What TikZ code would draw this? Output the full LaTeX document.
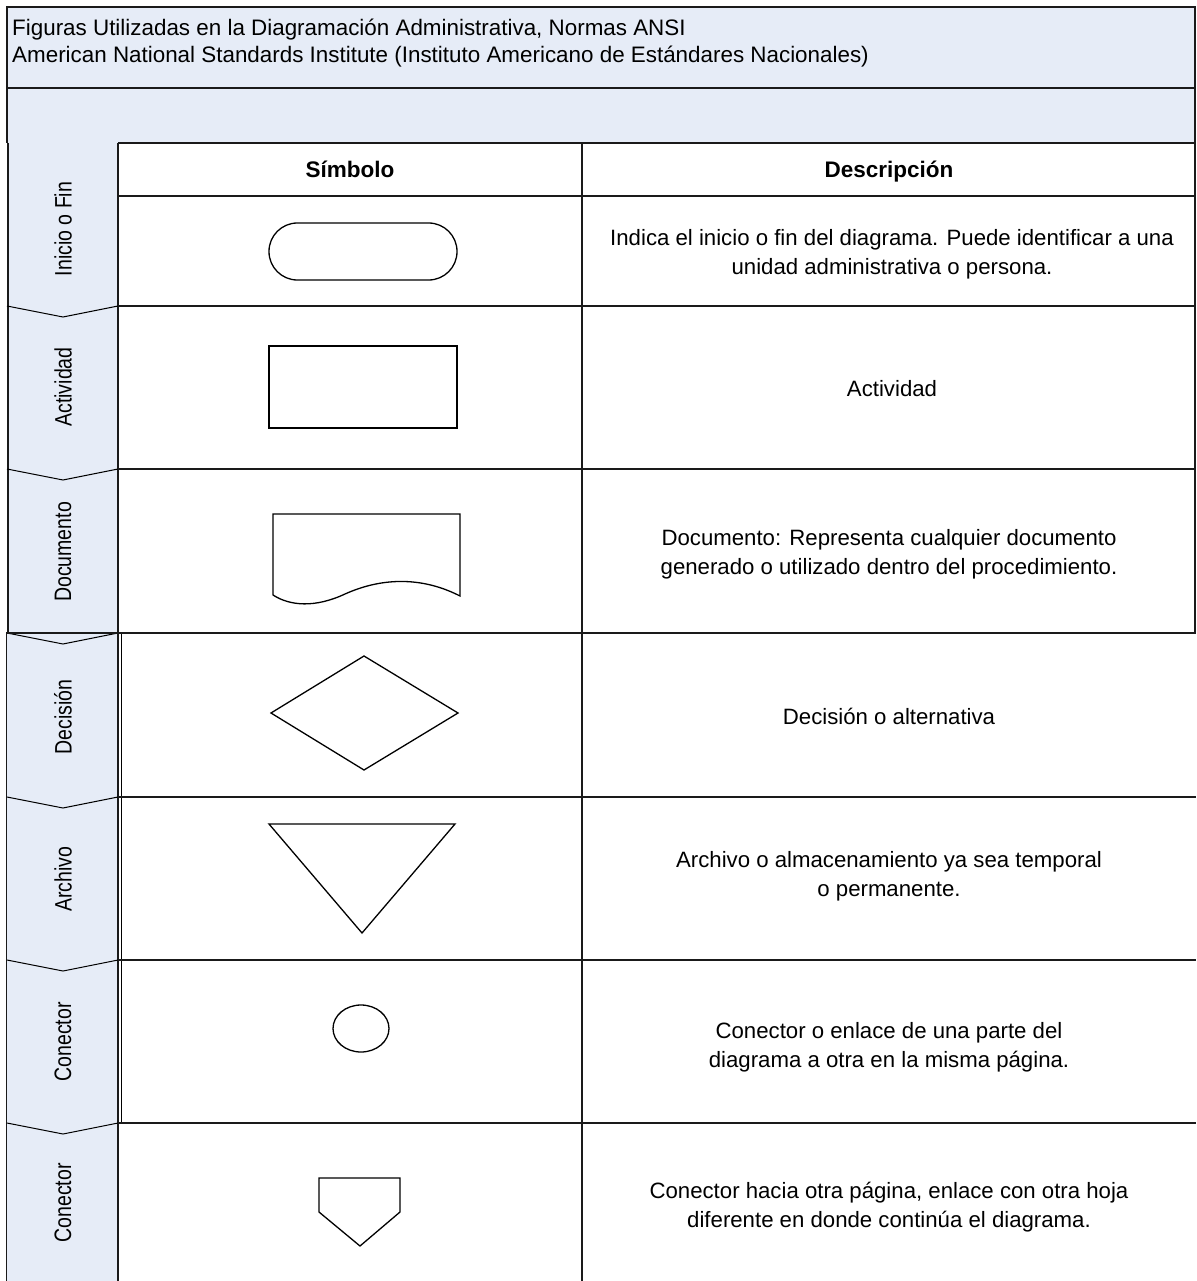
\documentclass[tikz,border=0pt]{standalone}
\usepackage{fontspec}
\setmainfont{Liberation Sans}
\newfontfamily\lanefont[FakeStretch=0.82]{Liberation Sans}
\definecolor{band}{HTML}{E6ECF7}
\definecolor{rule}{HTML}{1A1A1A}

\tikzset{
  grid/.style={line width=1.4pt, draw=rule},
  thickgrid/.style={line width=2.2pt, draw=rule},
  symb/.style={line width=1.3pt, draw=black},
  desc/.style={align=center, font=\fontsize{22.2}{29}\selectfont, inner sep=0pt},
  head/.style={anchor=base, font=\bfseries\fontsize{22.5}{26}\selectfont, inner sep=0pt},
  titletext/.style={anchor=base west, font=\fontsize{22.4}{26}\selectfont, inner sep=0pt},
  lanelabel/.style={rotate=90, font=\lanefont\fontsize{23.8}{27}\selectfont, inner sep=0pt},
}

\begin{document}
\begin{tikzpicture}[x=1pt, y=-1pt]
  \useasboundingbox (0,0) rectangle (1196,1281);

  % title band
  \fill[band] (7,7) rectangle (1195,143);
  \draw[grid] (7,143) -- (7,7) -- (1195,7) -- (1195,143);
  \draw[grid] (7,88) -- (1195,88);
  \node[titletext] (t1) at (12,36) {Figuras Utilizadas en la Diagramación Administrativa, Normas ANSI};
  \node[titletext] (t2) at (12,62.5) {American National Standards Institute (Instituto Americano de Estándares Nacionales)};

  % lane column
  \fill[band] (7,143) rectangle (118,1281);
  \draw[grid] (8,143) -- (8,633);
  \draw[grid] (6.5,633) -- (6.5,1281);
  \draw[grid] (118,143) -- (118,1281);
  \draw[line width=0.8pt] (121,633) -- (121,1123);
  \foreach \yy in {306,469,633,797,960,1123}
    \draw[line width=1pt] (7,\yy) -- (63,\yy+11) -- (118,\yy);

  % lane labels
  \node[lanelabel] (l1) at (63,229) {Inicio o Fin};
  \node[lanelabel] (l2) at (63,387) {Actividad};
  \node[lanelabel] (l3) at (63,552) {Documento};
  \node[lanelabel] (l4) at (63,717) {Decisión};
  \node[lanelabel] (l5) at (63,879) {Archivo};
  \node[lanelabel] (l6) at (63,1042) {Conector};
  \node[lanelabel] (l7) at (63,1203) {Conector};

  % table grid
  \draw[grid] (118,143) -- (1195,143);
  \draw[grid] (118,196) -- (1195,196);
  \draw[grid] (118,306) -- (1195,306);
  \draw[grid] (118,469) -- (1195,469);
  \draw[thickgrid] (6,633) -- (1196,633);
  \draw[thickgrid] (118,797) -- (582,797);
  \draw[grid] (582,797) -- (1196,797);
  \draw[grid] (118,960) -- (1196,960);
  \draw[grid] (118,1123) -- (1196,1123);
  \draw[grid] (582,143) -- (582,1281);
  \draw[grid] (1195,143) -- (1195,633);

  % column headers
  \node[head] (h1) at (350,178) {Símbolo};
  \node[head] (h2) at (889,178) {Descripción};

  % symbols
  \node[symb, minimum width=188pt, minimum height=57pt, rounded corners=28.4pt] (term) at (363,251.5) {};
  \node[symb, minimum width=188pt, minimum height=82pt] (act) at (363,387) {};
  \draw[symb] (273,595) -- (273,514) -- (460,514) -- (460,596)
    .. controls (425,578) and (385,576) .. (345,594)
    .. controls (315,608) and (290,606) .. (273,595);
  \draw[symb] (271,713) -- (364,656) -- (458,713) -- (364,770) -- cycle;
  \draw[symb] (269,824) -- (455,824) -- (362,933) -- cycle;
  \draw[symb] (361,1028.5) ellipse [x radius=28, y radius=23.5];
  \draw[symb] (319,1178) -- (400,1178) -- (400,1212) -- (360,1246) -- (319,1212) -- cycle;

  % descriptions
  \node[desc] (d1) at (892,254.5) {Indica el inicio o fin del diagrama. Puede identificar a una\\unidad administrativa o persona.};
  \node[desc] (d2) at (892,389) {Actividad};
  \node[desc] (d3) at (889,554) {Documento: Representa cualquier documento\\generado o utilizado dentro del procedimiento.};
  \node[desc] (d4) at (889,716) {Decisión o alternativa};
  \node[desc] (d5) at (889,876) {Archivo o almacenamiento ya sea temporal\\o permanente.};
  \node[desc] (d6) at (889,1047) {Conector o enlace de una parte del\\diagrama a otra en la misma página.};
  \node[desc] (d7) at (889,1207) {Conector hacia otra página, enlace con otra hoja\\diferente en donde continúa el diagrama.};
\end{tikzpicture}
\end{document}
